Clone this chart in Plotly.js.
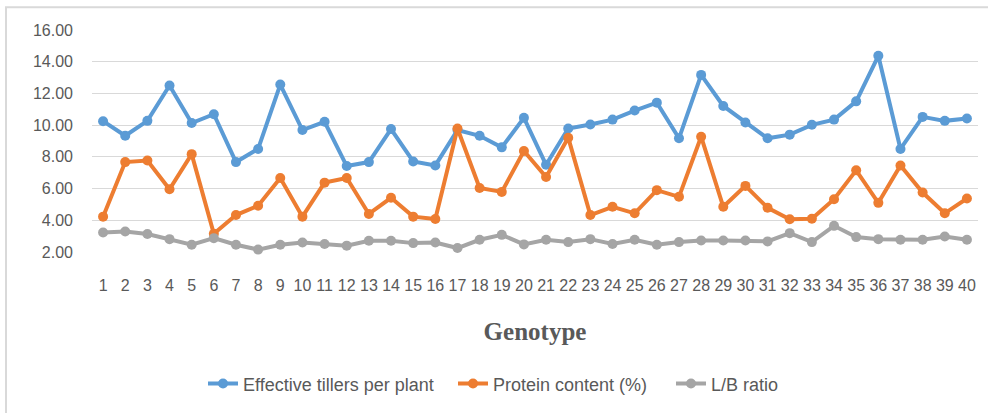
<!DOCTYPE html>
<html>
<head>
<meta charset="utf-8">
<script src="https://cdn.plot.ly/plotly-3.0.1.min.js"></script>
<style>
  html, body { margin: 0; padding: 0; background: #ffffff; }
  #chart { width: 988px; height: 413px; }
</style>
</head>
<body>
<div id="chart"></div>
<script>
const genotypes = ["1","2","3","4","5","6","7","8","9","10","11","12","13","14","15","16","17","18","19","20",
                   "21","22","23","24","25","26","27","28","29","30","31","32","33","34","35","36","37","38","39","40"];

const effectiveTillers = [10.25, 9.33, 10.27, 12.5, 10.13, 10.69, 7.67, 8.5, 12.56, 9.69,
                          10.21, 7.42, 7.67, 9.75, 7.71, 7.46, 9.69, 9.33, 8.6, 10.46,
                          7.5, 9.79, 10.04, 10.35, 10.92, 11.42, 9.17, 13.17, 11.21, 10.17,
                          9.17, 9.4, 10.02, 10.35, 11.5, 14.375, 8.5, 10.52, 10.27, 10.42];

const proteinContent = [4.23, 7.67, 7.77, 5.96, 8.17, 3.15, 4.33, 4.92, 6.67, 4.23,
                        6.375, 6.67, 4.4, 5.42, 4.23, 4.08, 9.79, 6.04, 5.79, 8.37,
                        6.73, 9.21, 4.33, 4.85, 4.44, 5.9, 5.48, 9.27, 4.85, 6.17,
                        4.79, 4.06, 4.1, 5.33, 7.15, 5.1, 7.46, 5.75, 4.44, 5.375];

const lbRatio = [3.23, 3.29, 3.13, 2.81, 2.46, 2.875, 2.46, 2.15, 2.46, 2.6,
                 2.5, 2.4, 2.71, 2.71, 2.56, 2.6, 2.25, 2.77, 3.08, 2.48,
                 2.77, 2.625, 2.81, 2.5, 2.77, 2.46, 2.625, 2.73, 2.73, 2.73,
                 2.67, 3.19, 2.625, 3.65, 2.94, 2.81, 2.77, 2.77, 2.98, 2.77];

const seriesNames = ["Effective tillers per plant", "Protein content (%)", "L/B ratio"];
const seriesColors = ["#5B9BD5", "#ED7D31", "#A5A5A5"];
const seriesValues = [effectiveTillers, proteinContent, lbRatio];
const legendIds = ["legend", "legend2", "legend3"];

const traces = seriesValues.map((vals, i) => ({
  type: "scatter",
  mode: "lines+markers",
  x: genotypes,
  y: vals,
  name: seriesNames[i],
  legend: legendIds[i],
  line: { color: seriesColors[i], width: 4 },
  marker: { color: seriesColors[i], size: 10 },
  cliponaxis: false
}));

const textColor = "#595959";

function legendAt(px) {
  return {
    orientation: "h",
    x: (px - 92) / 886,
    xanchor: "left",
    y: (254 - 387) / 224,
    yanchor: "middle",
    font: { size: 18, color: textColor },
    bgcolor: "rgba(0,0,0,0)",
    borderwidth: 0
  };
}

const layout = {
  width: 988,
  height: 413,
  margin: { l: 92, r: 10, t: 30, b: 159, pad: 0 },
  paper_bgcolor: "#ffffff",
  plot_bgcolor: "#ffffff",
  showlegend: true,
  font: { family: "Liberation Sans, Arial, sans-serif", color: textColor },
  xaxis: {
    type: "category",
    range: [-0.5, 39.5],
    showgrid: false,
    showline: false,
    zeroline: false,
    ticks: "",
    ticklabelstandoff: 22,
    tickfont: { size: 16, color: textColor },
    automargin: false,
    title: {
      text: "<b>Genotype</b>",
      font: { family: "Liberation Serif, Times New Roman, serif", size: 25, color: textColor },
      standoff: 29
    }
  },
  yaxis: {
    range: [2, 16],
    dtick: 2,
    tick0: 0,
    tickformat: ".2f",
    showgrid: true,
    gridcolor: "#d9d9d9",
    gridwidth: 1,
    zeroline: false,
    showline: false,
    ticks: "",
    ticklabelstandoff: 18,
    tickfont: { size: 16, color: textColor },
    automargin: false
  },
  legend: legendAt(203),
  legend2: legendAt(453),
  legend3: legendAt(671),
  shapes: [{
    type: "rect",
    xref: "paper", yref: "paper",
    x0: (6 - 92) / 886, x1: 1.05,
    y0: -0.75, y1: (254 - 7) / 224,
    line: { color: "#d9d9d9", width: 2 },
    fillcolor: "rgba(0,0,0,0)",
    layer: "below"
  }]
};

Plotly.newPlot("chart", traces, layout, { displayModeBar: false, staticPlot: true });
</script>
</body>
</html>
